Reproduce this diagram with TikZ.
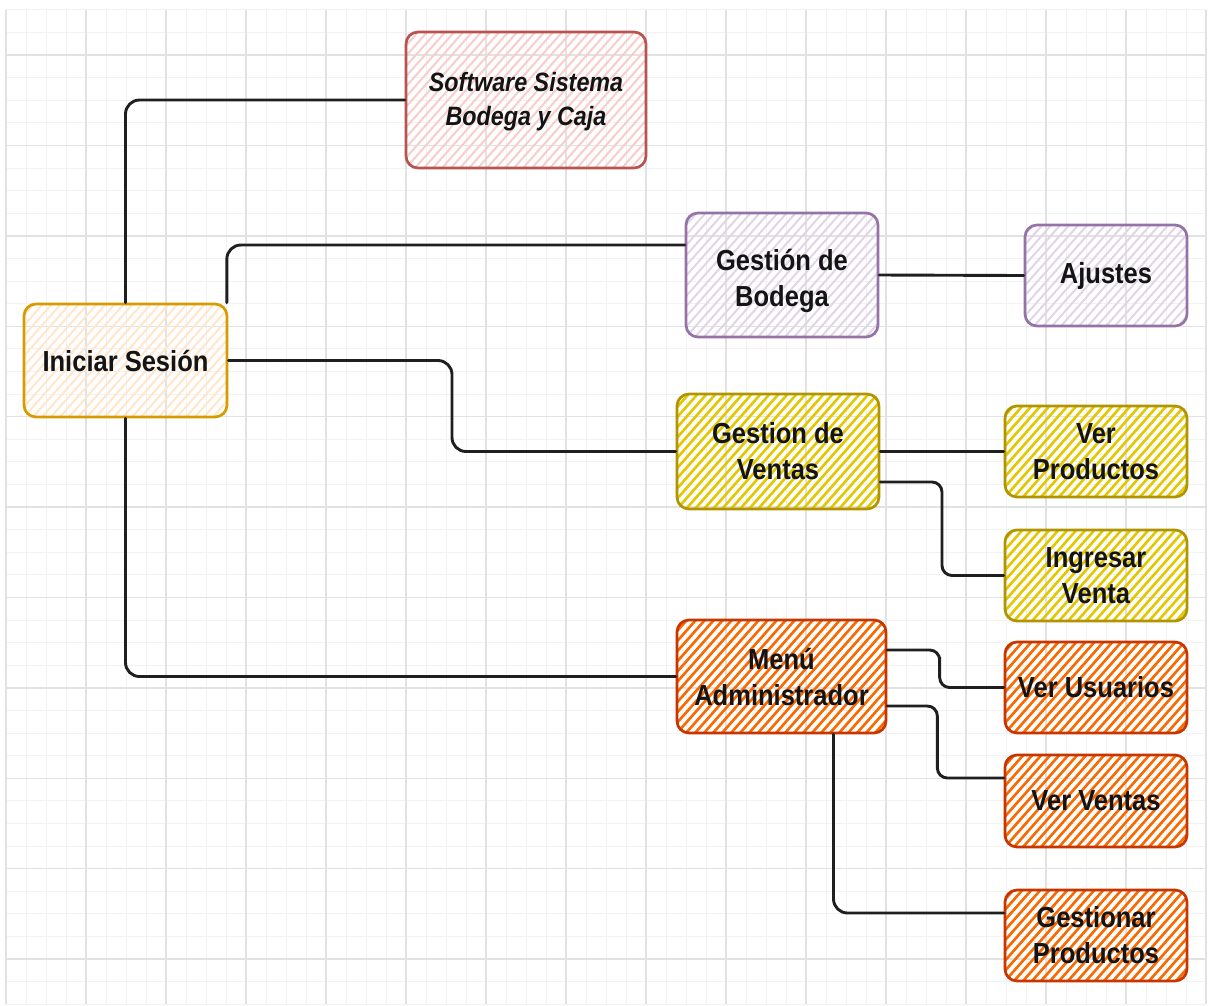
\documentclass[tikz,border=0pt]{standalone}
\usepackage{fontspec}
\newfontfamily\lbl[FakeStretch=0.88]{Liberation Sans}
\usetikzlibrary{calc}
\definecolor{txt}{HTML}{141414}
\definecolor{gmin}{HTML}{F2F2F2}
\definecolor{gmaj}{HTML}{E2E2E2}
\definecolor{redS}{HTML}{B85450}\definecolor{redF}{HTML}{F8CECC}
\definecolor{ornS}{HTML}{D79B00}\definecolor{ornF}{HTML}{FFE6CC}
\definecolor{purS}{HTML}{9673A6}\definecolor{purF}{HTML}{E1D5E7}
\definecolor{yelS}{HTML}{B09500}\definecolor{yelF}{HTML}{E3C800}
\definecolor{orgS}{HTML}{C73500}\definecolor{orgF}{HTML}{FA6800}
\tikzset{
  minorline/.style={draw=gmin, line width=1pt},
  majorline/.style={draw=gmaj, line width=1.4pt},
  hatchfill/.style 2 args={path picture={
      \foreach \k in {-17,...,28}{
        \draw[draw=#1, line width=#2, line cap=butt]
          ([xshift=\k*9pt]path picture bounding box.south west) -- ++(160pt,181pt);
      }}},
  lbltext/.style={align=center, text=txt, inner sep=0pt,
      font=\lbl\bfseries\fontsize{29}{36}\selectfont},
  box/.style n args={3}{draw=#1, rounded corners=12pt, line width=2.7pt,
      hatchfill={#2}{#3}, lbltext},
  conn/.style={draw=black!88, line width=2.9pt, rounded corners=14pt, line cap=round},
  connS/.style={conn, rounded corners=10pt},
}
\begin{document}
\begin{tikzpicture}[x=1pt,y=-1pt]
\useasboundingbox (0,0) rectangle (1209,1005);
\fill[white] (0,0) rectangle (1209,1005);
% grid
\foreach \i in {0,...,60} \draw[minorline] ({6+20*\i},9.8) -- ({6+20*\i},1004.2);
\foreach \j in {0,...,44} \draw[minorline] (6,{9.8+22.6*\j}) -- (1206,{9.8+22.6*\j});
\foreach \i in {0,...,15} \draw[majorline] ({6+80*\i},9.8) -- ({6+80*\i},1004.2);
\foreach \k in {0,...,10} \draw[majorline] (6,{55+90.4*\k}) -- (1206,{55+90.4*\k});
% nodes
\node[box={redS}{redF}{2pt}, minimum width=240pt, minimum height=136pt,
      label={[lbltext, font=\lbl\bfseries\itshape\fontsize{26.5}{34}\selectfont, yshift=-2pt]center:{Software Sistema\\Bodega y Caja}}]
      (soft) at (526,100) {};
\node[box={ornS}{ornF}{2pt}, minimum width=203pt, minimum height=113pt] (ini) at (125.5,360.5) {Iniciar Sesión};
\node[box={purS}{purF}{2pt}, minimum width=192pt, minimum height=124pt,
      label={[lbltext, yshift=-5.5pt]center:{Gestión de\\Bodega}}] (bod) at (782,275) {};
\node[box={purS}{purF}{2pt}, minimum width=162pt, minimum height=101pt] (aju) at (1106,275.5) {Ajustes};
\node[box={yelS}{yelF}{2.6pt}, minimum width=202pt, minimum height=115pt] (ven) at (778,451.5) {Gestion de\\Ventas};
\node[box={yelS}{yelF}{2.6pt}, minimum width=182pt, minimum height=91pt] (vp) at (1096,451.5) {Ver\\Productos};
\node[box={yelS}{yelF}{2.6pt}, minimum width=182pt, minimum height=91pt] (ing) at (1096,575.5) {Ingresar\\Venta};
\node[box={orgS}{orgF}{2.6pt}, minimum width=209pt, minimum height=113pt] (adm) at (781.5,676.5) {Menú\\Administrador};
\node[box={orgS}{orgF}{2.6pt}, minimum width=182pt, minimum height=91pt] (vu) at (1096,687.5) {Ver Usuarios};
\node[box={orgS}{orgF}{2.6pt}, minimum width=182pt, minimum height=92pt] (vv) at (1096,801) {Ver Ventas};
\node[box={orgS}{orgF}{2.6pt}, minimum width=182pt, minimum height=91pt] (gp) at (1096,935.5) {Gestionar\\Productos};
% connectors
\draw[conn] (ini.north) |- (soft.west);
\draw[conn] ([xshift=-1.5pt]ini.north east) |- ([yshift=30pt]bod.west);
\draw[conn] (ini.east) -| ($(ini.east)!0.5!(ven.west)$) |- (ven.west);
\draw[conn] (ini.south) |- (adm.west);
\draw[conn] (bod.east) -- (aju.west);
\draw[conn] (ven.east) -- (vp.west);
\draw[connS] ([yshift=-30.5pt]ven.east) -| ($([yshift=-30.5pt]ven.east)!0.5!(ing.west)$) |- (ing.west);
\draw[connS] ([yshift=26.5pt]adm.east) -| ($([yshift=26.5pt]adm.east)!0.45!(vu.west)$) |- (vu.west);
\draw[connS] ([yshift=-29.5pt]adm.east) -| ($([yshift=-29.5pt]adm.east)!0.43!([yshift=23pt]vv.west)$) |- ([yshift=23pt]vv.west);
\draw[conn] ([xshift=52pt]adm.south) |- ([yshift=22.5pt]gp.west);
\end{tikzpicture}
\end{document}
